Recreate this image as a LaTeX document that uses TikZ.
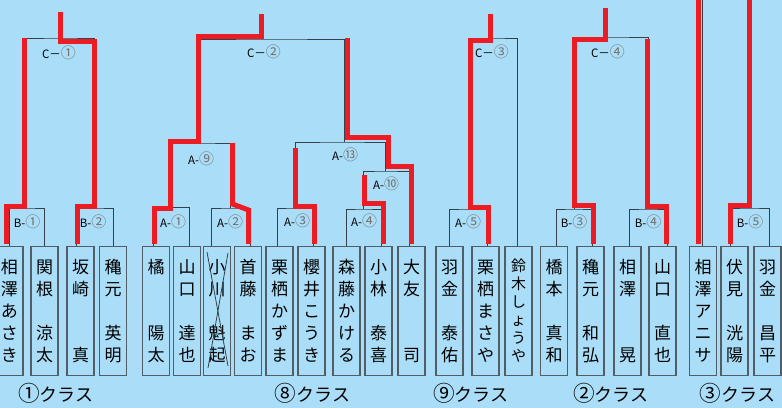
\documentclass[tikz,border=0pt]{standalone}
\usepackage{fontspec}
\setmainfont{Noto Sans CJK JP}
\usetikzlibrary{calc}
\definecolor{sky}{RGB}{170,222,248}
\definecolor{winred}{RGB}{236,28,36}
\definecolor{wire}{RGB}{52,64,74}
\def\ring#1{\textcolor{black!55}{\scalebox{1.3}{#1}}}
\def\kring#1{\scalebox{1.2}{#1}}

\begin{document}
\begin{tikzpicture}[x=1pt,y=-1pt,
		thin/.style={draw=wire,line width=1pt},
		winline/.style={draw=winred,line width=5pt,line join=miter},
		pbox/.style={draw=wire!85,line width=1.2pt,minimum width=27pt,minimum height=129pt,inner sep=0pt,align=center,font=\fontsize{17}{22}\selectfont},
		mlabel/.style={inner sep=0pt,font=\fontsize{11.5}{11.5}\selectfont},
		klabel/.style={inner sep=0pt,font=\fontsize{18}{18}\selectfont}]
			%%%%% START %%%%%
			\useasboundingbox (0,0) rectangle (782,408);
			\fill[sky] (0,0) rectangle (782,408);
			
			% players
			\node[pbox] (p1) at (9.5,311) {相\\澤\\あ\\さ\\き};
			\node[pbox] (p2) at (44.5,311) {関\\根\\~\\涼\\太};
			\node[pbox] (p3) at (80.5,311) {坂\\崎\\~\\~\\真};
			\node[pbox] (p4) at (113,311) {穐\\元\\~\\英\\明};
			\node[pbox] (p5) at (156,311) {橘\\~\\~\\陽\\太};
			\node[pbox] (p6) at (187,311) {山\\口\\~\\達\\也};
			\node[pbox] (p7) at (217,311) {小\\川\\~\\魁\\起};
			\node[pbox] (p8) at (248,311) {首\\藤\\~\\ま\\お};
			\node[pbox] (p9) at (279.5,311) {栗\\栖\\か\\ず\\ま};
			\node[pbox] (p10) at (311.5,311) {櫻\\井\\こ\\う\\き};
			\node[pbox] (p11) at (346.5,311) {森\\藤\\か\\け\\る};
			\node[pbox] (p12) at (378.5,311) {小\\林\\~\\泰\\喜};
			\node[pbox] (p13) at (411.5,311) {大\\友\\~\\~\\司};
			\node[pbox] (p14) at (449.5,311) {羽\\金\\~\\泰\\佑};
			\node[pbox] (p15) at (485.5,311) {栗\\栖\\ま\\さ\\や};
			\node[pbox,font=\fontsize{15}{18}\selectfont] (p16) at (518.5,311) {鈴\\木\\し\\ょ\\う\\や};
			\node[pbox] (p17) at (554,311) {橋\\本\\~\\真\\和};
			\node[pbox] (p18) at (590.5,311) {穐\\元\\~\\和\\弘};
			\node[pbox] (p19) at (627.5,311) {相\\澤\\~\\~\\晃};
			\node[pbox] (p20) at (662.5,311) {山\\口\\~\\直\\也};
			\node[pbox] (p21) at (703,311) {相\\澤\\ア\\ニ\\サ};
			\node[pbox] (p22) at (734.5,311) {伏\\見\\~\\洸\\陽};
			\node[pbox] (p23) at (767.5,311) {羽\\金\\~\\昌\\平};
			
			% crossed out
			\draw[thin,line width=0.8pt] ($(p7.center)+(-10,-59)$) -- ($(p7.center)+(11,55)$);
			\draw[thin,line width=0.8pt] ($(p7.center)+(11,-58)$) -- ($(p7.center)+(-9,57)$);
			
			% match points
			\coordinate (B1) at (26.5,208);
			\coordinate (B2) at (94.5,208);
			\coordinate (C1) at (61,38);
			\coordinate (A1) at (171,207.5);
			\coordinate (A2) at (230.5,208);
			\coordinate (A9) at (200.5,143);
			\coordinate (A3) at (295,208);
			\coordinate (A4) at (363.5,209);
			\coordinate (A10) at (385.5,171);
			\coordinate (A13) at (344,142);
			\coordinate (C2) at (271,39);
			\coordinate (A5) at (468,209);
			\coordinate (C3) at (492.5,38);
			\coordinate (B3) at (574,209);
			\coordinate (B4) at (648,209);
			\coordinate (C4) at (610,37);
			\coordinate (B5) at (749.5,208);
			\coordinate (T3) at (749.5,0);
			
			% brackets
			\draw[thin] ([xshift=-0.5pt]p1.north) |- (B1) -| (p2.north);
			\draw[thin] ([xshift=-4.5pt]p3.north) |- (B2) -| (p4.north);
			\draw[thin] (B1) |- (C1) -| (B2);
			\draw[thin] ([xshift=-3pt]p5.north) |- (A1) -| ([xshift=2pt]p6.north);
			\draw[thin] ([xshift=-6pt]p7.north) |- (A2) -| ([xshift=2pt]p8.north);
			\draw[thin] (A1) |- (A9) -| (A2);
			\draw[thin] ([xshift=-2.5pt]p9.north) |- (A3) -| ([xshift=1.5pt]p10.north);
			\draw[thin] (p11.north) |- (A4) -| ([xshift=2.5pt]p12.north);
			\draw[thin] (A4) |- (A10) -| ([xshift=-2.5pt]p13.north);
			\draw[thin] (A3) |- (A13) -| (A10);
			\draw[thin] (A9) |- (C2) -| (A13);
			\draw[thin] (p14.north) |- (A5) -| ([xshift=1.5pt]p15.north);
			\draw[thin] (A5) |- (C3) -| ([xshift=-1.5pt]p16.north);
			\draw[thin] ([xshift=2pt]p17.north) |- (B3) -| ([xshift=1.5pt]p18.north);
			\draw[thin] ([xshift=1.5pt]p19.north) |- (B4) -| ([xshift=4.5pt]p20.north);
			\draw[thin] (B3) |- (C4) -| (B4);
			\draw[thin] ([xshift=-1pt]p21.north) -- ([xshift=-1pt]p21.north |- T3);
			\draw[thin] ([xshift=-4.5pt]p22.north) |- (B5) -| ([xshift=1.5pt]p23.north);
			\draw[thin] (B5) -- (T3);
			
			% winners
			\draw[winline] ([xshift=-3.5pt,yshift=2pt]p1.north) |- (24,206) -- (24,38);
			\draw[winline] ([xshift=-3.5pt,yshift=2pt]p3.north) |- (94,206) -- (94,41) -- (60.5,41) -- (60.5,12);
			\draw[winline] ([xshift=-2pt,yshift=2pt]p5.north) |- (170.5,208.5) -- (170.5,141.5) -- (198,141.5) -- (198,36.5) -- (261.5,36.5) -- (261.5,14);
			\draw[winline] ([xshift=0.5pt,yshift=2pt]p8.north) -- (248.5,210) -- (232.5,204) -- (232.5,143);
			\draw[winline] ([xshift=2.5pt,yshift=2pt]p10.north) |- (295.5,206.5) -- (295.5,148);
			\draw[winline] ([xshift=5pt,yshift=2pt]p12.north) |- (364.5,203.5) -- (364.5,175);
			\draw[winline] ([yshift=2pt]p13.north) |- (388.5,166.5) -- (388.5,137.5) -- (347.5,137.5) -- (347.5,38);
			\draw[winline] ([xshift=3pt,yshift=2pt]p15.north) |- (470.5,207) -- (470.5,40.5) -- (490,40.5) -- (490,14);
			\draw[winline] ([xshift=3pt,yshift=2pt]p18.north) |- (574.5,205.5) -- (574.5,39.5) -- (605,39.5) -- (605,8);
			\draw[winline] ([xshift=4pt,yshift=2pt]p20.north) |- (647.5,206.5) -- (647.5,39);
			\draw[winline] ([xshift=-4.5pt,yshift=2pt]p21.north) -- (698.5,0);
			\draw[winline] ([xshift=-4pt,yshift=2pt]p22.north) |- (749.5,205) -- (749.5,0);
			
			% match labels
			\node[mlabel] (lC1) at (59,53) {C－\ring{①}};
			\node[mlabel] (lB1) at (27,222) {B-\ring{①}};
			\node[mlabel] (lB2) at (93,222) {B-\ring{②}};
			\node[mlabel] (lC2) at (264,52) {C－\ring{②}};
			\node[mlabel] (lA9) at (201,159) {A-\ring{⑨}};
			\node[mlabel] (lA13) at (345,155) {A-\ring{⑬}};
			\node[mlabel] (lA10) at (386,184) {A-\ring{⑩}};
			\node[mlabel] (lA1) at (173,222) {A-\ring{①}};
			\node[mlabel] (lA2) at (230,222) {A-\ring{②}};
			\node[mlabel] (lA3) at (297,221) {A-\ring{③}};
			\node[mlabel] (lA4) at (364,221) {A-\ring{④}};
			\node[mlabel] (lC3) at (492,52) {C－\ring{③}};
			\node[mlabel] (lA5) at (468,222) {A-\ring{⑤}};
			\node[mlabel] (lC4) at (608,52) {C－\ring{④}};
			\node[mlabel] (lB3) at (574,222) {B-\ring{③}};
			\node[mlabel] (lB4) at (648,222) {B-\ring{④}};
			\node[mlabel] (lB5) at (750,222) {B-\ring{⑤}};
			
			% classes
			\node[klabel] (k1) at (56,393) {\kring{①}クラス};
			\node[klabel] (k8) at (312.5,393) {\kring{⑧}クラス};
			\node[klabel] (k9) at (471,393) {\kring{⑨}クラス};
			\node[klabel] (k2) at (611,393) {\kring{②}クラス};
			\node[klabel] (k3) at (737.5,393) {\kring{③}クラス};
			%%%%% END %%%%%
		\end{tikzpicture}
\end{document}
